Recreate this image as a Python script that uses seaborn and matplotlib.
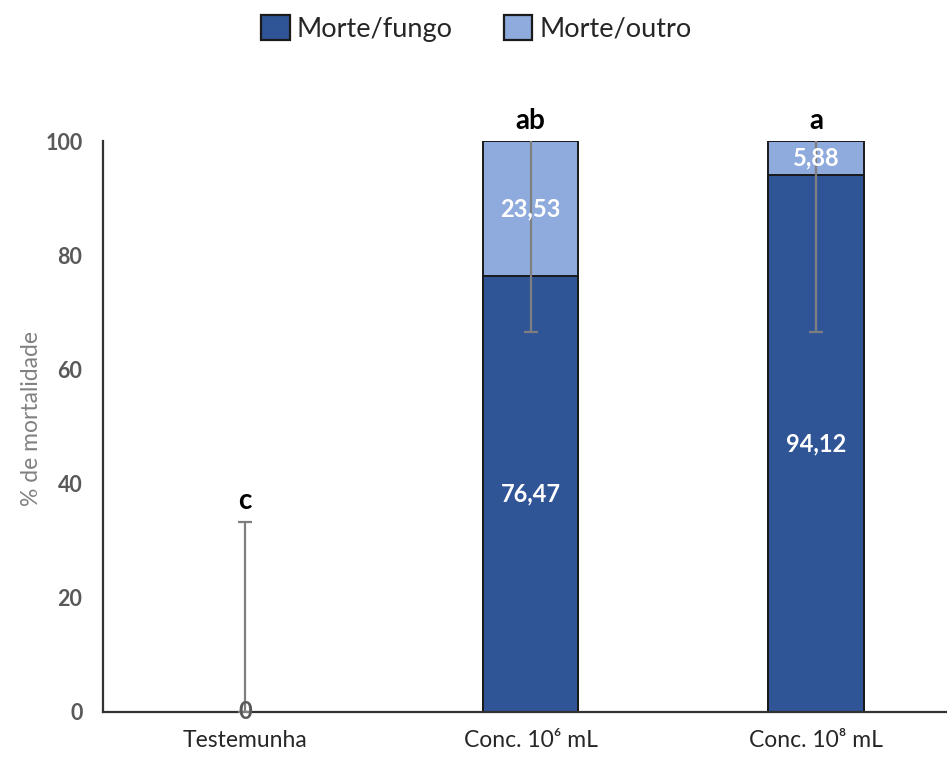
import matplotlib
matplotlib.use("Agg")
import matplotlib.pyplot as plt
import seaborn as sns
import pandas as pd
from matplotlib.patches import Patch

# Mortality data per treatment
categories = ["Testemunha", "Conc. 10\u2076 mL", "Conc. 10\u2078 mL"]
morte_fungo = [0.0, 76.47, 94.12]
morte_outro = [0.0, 23.53, 5.88]
erro = [33.33, 33.33, 33.33]
letras = ["c", "ab", "a"]
series_names = ["Morte/fungo", "Morte/outro"]

dark = "#2F5597"
light = "#8FAADC"
grey_txt = "#595959"

sns.set_theme(style="white")
plt.rcParams["font.family"] = ["Lato", "DejaVu Sans"]

total = [f + o for f, o in zip(morte_fungo, morte_outro)]
df = pd.DataFrame({"cat": categories, "fungo": morte_fungo,
                   "outro": morte_outro, "total": total})

fig = plt.figure(figsize=(9.47, 7.66), dpi=100)
ax = fig.add_axes([0.109, 0.0705, 0.891, 0.745])

sns.barplot(data=df, x="cat", y="total", color=light, width=0.333,
            edgecolor="#1a1a1a", linewidth=1.4, saturation=1, ax=ax)
sns.barplot(data=df, x="cat", y="fungo", color=dark, width=0.333,
            edgecolor="#1a1a1a", linewidth=1.4, saturation=1, ax=ax)

# error bars around the stacked totals (clipped at zero and at the axis top)
xs = list(range(len(categories)))
lower = [min(e, t) for e, t in zip(erro, total)]
ax.errorbar(xs, total, yerr=[lower, erro], fmt="none", ecolor="#7f7f7f",
            elinewidth=1.6, capsize=5, capthick=1.6, zorder=5)

# value labels
for i, (f, o) in enumerate(zip(morte_fungo, morte_outro)):
    if f > 0:
        ax.text(i, f / 2, f"{f:.2f}".replace(".", ","),
                ha="center", va="center", color="white", fontsize=17,
                fontweight="bold", zorder=6)
    else:
        ax.text(i, 0, "0", ha="center", va="center", color=grey_txt,
                fontsize=17, fontweight="bold", zorder=6)
    if o > 0:
        ax.text(i, f + o / 2, f"{o:.2f}".replace(".", ","),
                ha="center", va="center", color="white", fontsize=17,
                fontweight="bold", zorder=6)

# significance letters
for i, (t, e, l) in enumerate(zip(total, erro, letras)):
    top = min(t + e, 100)
    ax.text(i, top + 1.3, l, ha="center", va="bottom", color="black",
            fontsize=20, fontweight="bold", clip_on=False)

ax.set_ylim(0, 100)
ax.set_xlim(-0.497, 2.459)
ax.set_yticks([0, 20, 40, 60, 80, 100])
ax.tick_params(axis="y", length=0, pad=15, labelsize=15.5, labelcolor=grey_txt)
ax.tick_params(axis="x", length=0, pad=13, labelsize=16.5, labelcolor="#262626")
for lab in ax.get_yticklabels():
    lab.set_fontweight("bold")
ax.set_xlabel("")
ax.set_ylabel("% de mortalidade", fontsize=16.5, color="#808080")
ax.yaxis.set_label_coords(-0.072, 0.515)

sns.despine(ax=ax, top=True, right=True)
for s in ("left", "bottom"):
    ax.spines[s].set_color("#333333")
    ax.spines[s].set_linewidth(1.6)

handles = [Patch(facecolor=dark, edgecolor="#1a1a1a", linewidth=1.6),
           Patch(facecolor=light, edgecolor="#1a1a1a", linewidth=1.6)]
fig.legend(handles, series_names, loc="center", bbox_to_anchor=(0.503, 0.963),
           ncol=2, frameon=False, fontsize=19.5, handlelength=1.05,
           handleheight=1.05, handletextpad=0.25, columnspacing=1.9)

fig.savefig("out.png", dpi=100)
